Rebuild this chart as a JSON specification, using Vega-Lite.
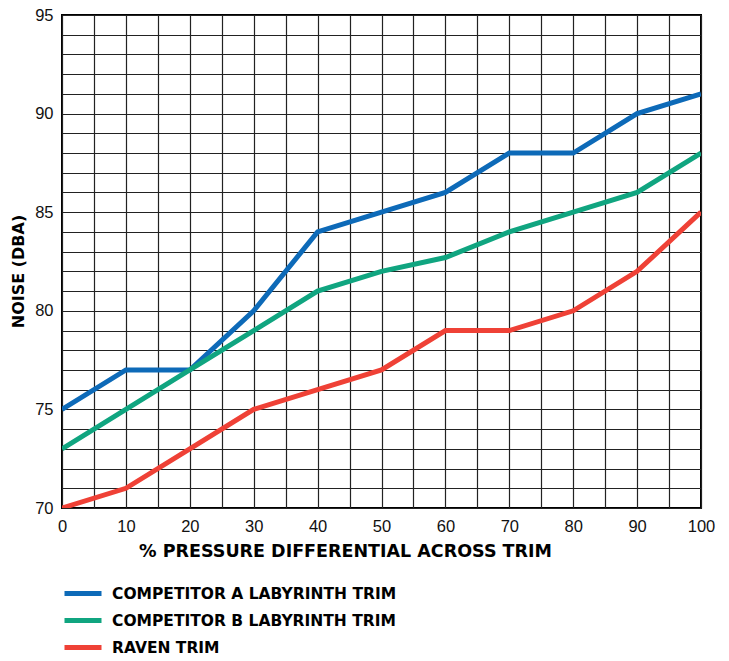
{
  "$schema": "https://vega.github.io/schema/vega-lite/v6.json",
  "width": 639,
  "height": 493,
  "autosize": {"type": "none"},
  "padding": {"left": 62, "top": 15, "right": 28, "bottom": 153},
  "background": "white",
  "config": {
    "view": {"stroke": "#000000", "strokeWidth": 2},
    "axis": {
      "grid": true,
      "gridColor": "#222222",
      "gridWidth": 1.2,
      "gridOpacity": 1,
      "domain": false,
      "ticks": false,
      "labelFlush": false,
      "labelOverlap": false,
      "labelBound": false,
      "labelFont": "Liberation Sans",
      "labelFontSize": 16.5,
      "labelColor": "#111111",
      "titleFont": "DejaVu Sans",
      "titleFontWeight": "bold",
      "titleColor": "#000000"
    }
  },
  "data": {
    "values": [
      {"series": "COMPETITOR A LABYRINTH TRIM", "x": 0, "y": 75},
      {"series": "COMPETITOR A LABYRINTH TRIM", "x": 10, "y": 77},
      {"series": "COMPETITOR A LABYRINTH TRIM", "x": 20, "y": 77},
      {"series": "COMPETITOR A LABYRINTH TRIM", "x": 30, "y": 80},
      {"series": "COMPETITOR A LABYRINTH TRIM", "x": 40, "y": 84},
      {"series": "COMPETITOR A LABYRINTH TRIM", "x": 50, "y": 85},
      {"series": "COMPETITOR A LABYRINTH TRIM", "x": 60, "y": 86},
      {"series": "COMPETITOR A LABYRINTH TRIM", "x": 70, "y": 88},
      {"series": "COMPETITOR A LABYRINTH TRIM", "x": 80, "y": 88},
      {"series": "COMPETITOR A LABYRINTH TRIM", "x": 90, "y": 90},
      {"series": "COMPETITOR A LABYRINTH TRIM", "x": 100, "y": 91},
      {"series": "COMPETITOR B LABYRINTH TRIM", "x": 0, "y": 73},
      {"series": "COMPETITOR B LABYRINTH TRIM", "x": 10, "y": 75},
      {"series": "COMPETITOR B LABYRINTH TRIM", "x": 20, "y": 77},
      {"series": "COMPETITOR B LABYRINTH TRIM", "x": 30, "y": 79},
      {"series": "COMPETITOR B LABYRINTH TRIM", "x": 40, "y": 81},
      {"series": "COMPETITOR B LABYRINTH TRIM", "x": 50, "y": 82},
      {"series": "COMPETITOR B LABYRINTH TRIM", "x": 60, "y": 82.7},
      {"series": "COMPETITOR B LABYRINTH TRIM", "x": 70, "y": 84},
      {"series": "COMPETITOR B LABYRINTH TRIM", "x": 80, "y": 85},
      {"series": "COMPETITOR B LABYRINTH TRIM", "x": 90, "y": 86},
      {"series": "COMPETITOR B LABYRINTH TRIM", "x": 100, "y": 88},
      {"series": "RAVEN TRIM", "x": 0, "y": 70},
      {"series": "RAVEN TRIM", "x": 10, "y": 71},
      {"series": "RAVEN TRIM", "x": 20, "y": 73},
      {"series": "RAVEN TRIM", "x": 30, "y": 75},
      {"series": "RAVEN TRIM", "x": 40, "y": 76},
      {"series": "RAVEN TRIM", "x": 50, "y": 77},
      {"series": "RAVEN TRIM", "x": 60, "y": 79},
      {"series": "RAVEN TRIM", "x": 70, "y": 79},
      {"series": "RAVEN TRIM", "x": 80, "y": 80},
      {"series": "RAVEN TRIM", "x": 90, "y": 82},
      {"series": "RAVEN TRIM", "x": 100, "y": 85}
    ]
  },
  "mark": {"type": "line", "strokeWidth": 5, "clip": true},
  "encoding": {
    "x": {
      "field": "x",
      "type": "quantitative",
      "scale": {"domain": [0, 100], "nice": false},
      "axis": {
        "values": [0, 5, 10, 15, 20, 25, 30, 35, 40, 45, 50, 55, 60, 65, 70, 75, 80, 85, 90, 95, 100],
        "labelExpr": "datum.value % 10 === 0 ? datum.label : ''",
        "labelPadding": 10,
        "title": "% PRESSURE DIFFERENTIAL ACROSS TRIM",
        "titleFontSize": 17.5,
        "titlePadding": 8,
        "titleX": 283
      }
    },
    "y": {
      "field": "y",
      "type": "quantitative",
      "scale": {"domain": [70, 95], "nice": false, "zero": false},
      "axis": {
        "values": [70, 71, 72, 73, 74, 75, 76, 77, 78, 79, 80, 81, 82, 83, 84, 85, 86, 87, 88, 89, 90, 91, 92, 93, 94, 95],
        "labelExpr": "datum.value % 5 === 0 ? datum.label : ''",
        "labelPadding": 9,
        "title": "NOISE (DBA)",
        "titleFontSize": 16,
        "titlePadding": 8,
        "titleY": 256
      }
    },
    "color": {
      "field": "series",
      "type": "nominal",
      "scale": {
        "domain": ["COMPETITOR A LABYRINTH TRIM", "COMPETITOR B LABYRINTH TRIM", "RAVEN TRIM"],
        "range": ["#0d6ab8", "#10a580", "#ef4136"]
      },
      "legend": {
        "orient": "none",
        "legendX": 0,
        "legendY": 565,
        "title": null,
        "symbolType": "stroke",
        "symbolSize": 1369,
        "symbolStrokeWidth": 5,
        "clipHeight": 27,
        "rowPadding": 0,
        "labelLimit": 0,
        "labelFont": "DejaVu Sans",
        "labelFontWeight": "bold",
        "labelFontSize": 15.5,
        "labelColor": "#000000",
        "labelOffset": 8
      }
    }
  }
}
